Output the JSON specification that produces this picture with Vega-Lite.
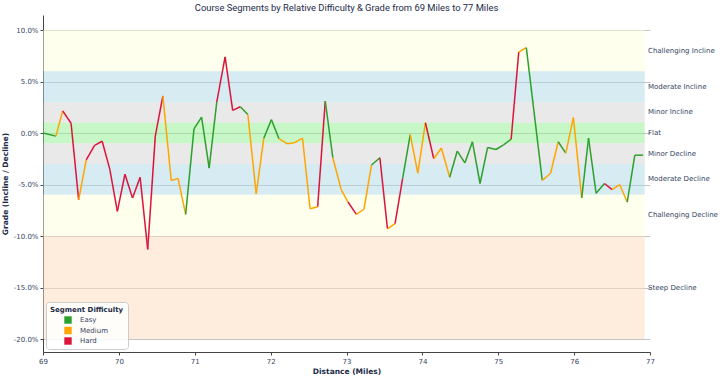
{
  "$schema": "https://vega.github.io/schema/vega-lite/v6.json",
  "autosize": {"type": "none"},
  "width": 607,
  "height": 337,
  "padding": {"left": 43, "top": 15, "right": 70, "bottom": 28},
  "background": "white",
  "title": {"text": "Course Segments by Relative Difficulty & Grade from 69 Miles to 77 Miles", "font": "Roboto", "fontSize": 9.4, "fontWeight": "normal", "color": "#1b2a47", "anchor": "middle", "offset": 2},
  "config": {
    "view": {"stroke": null},
    "axis": {"labelFont": "DejaVu Sans", "labelFontSize": 7, "labelColor": "#34445f", "titleFont": "DejaVu Sans", "titleFontSize": 7.5, "titleFontWeight": "bold", "titleColor": "#1b2a47", "gridColor": "#c4c4c4", "gridWidth": 1, "domainColor": "#444444", "tickColor": "#444444", "tickSize": 3, "labelFlush": false}
  },
  "datasets": {
    "bands": [
      {"band": "Challenging Incline", "lo": 6, "hi": 10, "mid": 8},
      {"band": "Moderate Incline", "lo": 3, "hi": 6, "mid": 4.5},
      {"band": "Minor Incline", "lo": 1, "hi": 3, "mid": 2},
      {"band": "Flat", "lo": -1, "hi": 1, "mid": 0},
      {"band": "Minor Decline", "lo": -3, "hi": -1, "mid": -2},
      {"band": "Moderate Decline", "lo": -6, "hi": -3, "mid": -4.5},
      {"band": "Challenging Decline", "lo": -10, "hi": -6, "mid": -8},
      {"band": "Steep Decline", "lo": -20, "hi": -10, "mid": -15}
    ],
    "segs": [
      {"x0": 69.00, "x1": 69.17, "g0": 0.0, "g1": -0.3, "d": "Easy"},
      {"x0": 69.17, "x1": 69.26, "g0": -0.3, "g1": 2.15, "d": "Medium"},
      {"x0": 69.26, "x1": 69.37, "g0": 2.15, "g1": 0.95, "d": "Hard"},
      {"x0": 69.37, "x1": 69.47, "g0": 0.95, "g1": -6.5, "d": "Hard"},
      {"x0": 69.47, "x1": 69.57, "g0": -6.5, "g1": -2.6, "d": "Medium"},
      {"x0": 69.57, "x1": 69.68, "g0": -2.6, "g1": -1.2, "d": "Hard"},
      {"x0": 69.68, "x1": 69.78, "g0": -1.2, "g1": -0.8, "d": "Hard"},
      {"x0": 69.78, "x1": 69.88, "g0": -0.8, "g1": -3.5, "d": "Hard"},
      {"x0": 69.88, "x1": 69.98, "g0": -3.5, "g1": -7.6, "d": "Hard"},
      {"x0": 69.98, "x1": 70.08, "g0": -7.6, "g1": -4.0, "d": "Hard"},
      {"x0": 70.08, "x1": 70.18, "g0": -4.0, "g1": -6.3, "d": "Hard"},
      {"x0": 70.18, "x1": 70.28, "g0": -6.3, "g1": -4.3, "d": "Hard"},
      {"x0": 70.28, "x1": 70.38, "g0": -4.3, "g1": -11.3, "d": "Hard"},
      {"x0": 70.38, "x1": 70.48, "g0": -11.3, "g1": -0.3, "d": "Hard"},
      {"x0": 70.48, "x1": 70.58, "g0": -0.3, "g1": 3.6, "d": "Hard"},
      {"x0": 70.58, "x1": 70.69, "g0": 3.6, "g1": -4.6, "d": "Medium"},
      {"x0": 70.69, "x1": 70.78, "g0": -4.6, "g1": -4.4, "d": "Medium"},
      {"x0": 70.78, "x1": 70.88, "g0": -4.4, "g1": -7.9, "d": "Medium"},
      {"x0": 70.88, "x1": 70.99, "g0": -7.9, "g1": 0.4, "d": "Easy"},
      {"x0": 70.99, "x1": 71.09, "g0": 0.4, "g1": 1.55, "d": "Easy"},
      {"x0": 71.09, "x1": 71.19, "g0": 1.55, "g1": -3.4, "d": "Easy"},
      {"x0": 71.19, "x1": 71.29, "g0": -3.4, "g1": 3.0, "d": "Easy"},
      {"x0": 71.29, "x1": 71.40, "g0": 3.0, "g1": 7.4, "d": "Hard"},
      {"x0": 71.40, "x1": 71.50, "g0": 7.4, "g1": 2.2, "d": "Hard"},
      {"x0": 71.50, "x1": 71.60, "g0": 2.2, "g1": 2.55, "d": "Hard"},
      {"x0": 71.60, "x1": 71.70, "g0": 2.55, "g1": 1.8, "d": "Easy"},
      {"x0": 71.70, "x1": 71.81, "g0": 1.8, "g1": -5.9, "d": "Medium"},
      {"x0": 71.81, "x1": 71.91, "g0": -5.9, "g1": -0.5, "d": "Medium"},
      {"x0": 71.91, "x1": 72.01, "g0": -0.5, "g1": 1.3, "d": "Easy"},
      {"x0": 72.01, "x1": 72.11, "g0": 1.3, "g1": -0.55, "d": "Easy"},
      {"x0": 72.11, "x1": 72.22, "g0": -0.55, "g1": -1.05, "d": "Medium"},
      {"x0": 72.22, "x1": 72.31, "g0": -1.05, "g1": -0.95, "d": "Medium"},
      {"x0": 72.31, "x1": 72.42, "g0": -0.95, "g1": -0.5, "d": "Medium"},
      {"x0": 72.42, "x1": 72.52, "g0": -0.5, "g1": -7.35, "d": "Medium"},
      {"x0": 72.52, "x1": 72.62, "g0": -7.35, "g1": -7.15, "d": "Medium"},
      {"x0": 72.62, "x1": 72.72, "g0": -7.15, "g1": 3.1, "d": "Hard"},
      {"x0": 72.72, "x1": 72.82, "g0": 3.1, "g1": -2.4, "d": "Easy"},
      {"x0": 72.82, "x1": 72.93, "g0": -2.4, "g1": -5.5, "d": "Medium"},
      {"x0": 72.93, "x1": 73.02, "g0": -5.5, "g1": -6.7, "d": "Medium"},
      {"x0": 73.02, "x1": 73.13, "g0": -6.7, "g1": -7.9, "d": "Hard"},
      {"x0": 73.13, "x1": 73.23, "g0": -7.9, "g1": -7.4, "d": "Medium"},
      {"x0": 73.23, "x1": 73.33, "g0": -7.4, "g1": -3.1, "d": "Medium"},
      {"x0": 73.33, "x1": 73.44, "g0": -3.1, "g1": -2.4, "d": "Easy"},
      {"x0": 73.44, "x1": 73.54, "g0": -2.4, "g1": -9.3, "d": "Hard"},
      {"x0": 73.54, "x1": 73.64, "g0": -9.3, "g1": -8.8, "d": "Medium"},
      {"x0": 73.64, "x1": 73.74, "g0": -8.8, "g1": -4.4, "d": "Hard"},
      {"x0": 73.74, "x1": 73.84, "g0": -4.4, "g1": -0.15, "d": "Easy"},
      {"x0": 73.84, "x1": 73.94, "g0": -0.15, "g1": -3.9, "d": "Medium"},
      {"x0": 73.94, "x1": 74.04, "g0": -3.9, "g1": 1.0, "d": "Medium"},
      {"x0": 74.04, "x1": 74.15, "g0": 1.0, "g1": -2.5, "d": "Hard"},
      {"x0": 74.15, "x1": 74.25, "g0": -2.5, "g1": -1.45, "d": "Medium"},
      {"x0": 74.25, "x1": 74.36, "g0": -1.45, "g1": -4.3, "d": "Medium"},
      {"x0": 74.36, "x1": 74.46, "g0": -4.3, "g1": -1.75, "d": "Easy"},
      {"x0": 74.46, "x1": 74.56, "g0": -1.75, "g1": -2.9, "d": "Easy"},
      {"x0": 74.56, "x1": 74.66, "g0": -2.9, "g1": -0.85, "d": "Easy"},
      {"x0": 74.66, "x1": 74.76, "g0": -0.85, "g1": -4.9, "d": "Easy"},
      {"x0": 74.76, "x1": 74.86, "g0": -4.9, "g1": -1.4, "d": "Easy"},
      {"x0": 74.86, "x1": 74.97, "g0": -1.4, "g1": -1.6, "d": "Easy"},
      {"x0": 74.97, "x1": 75.07, "g0": -1.6, "g1": -1.15, "d": "Easy"},
      {"x0": 75.07, "x1": 75.17, "g0": -1.15, "g1": -0.6, "d": "Easy"},
      {"x0": 75.17, "x1": 75.27, "g0": -0.6, "g1": 7.85, "d": "Hard"},
      {"x0": 75.27, "x1": 75.37, "g0": 7.85, "g1": 8.3, "d": "Medium"},
      {"x0": 75.37, "x1": 75.58, "g0": 8.3, "g1": -4.6, "d": "Easy"},
      {"x0": 75.58, "x1": 75.69, "g0": -4.6, "g1": -3.9, "d": "Medium"},
      {"x0": 75.69, "x1": 75.79, "g0": -3.9, "g1": -0.85, "d": "Medium"},
      {"x0": 75.79, "x1": 75.89, "g0": -0.85, "g1": -1.95, "d": "Easy"},
      {"x0": 75.89, "x1": 75.99, "g0": -1.95, "g1": 1.5, "d": "Medium"},
      {"x0": 75.99, "x1": 76.10, "g0": 1.5, "g1": -6.3, "d": "Medium"},
      {"x0": 76.10, "x1": 76.19, "g0": -6.3, "g1": -0.5, "d": "Easy"},
      {"x0": 76.19, "x1": 76.29, "g0": -0.5, "g1": -5.85, "d": "Easy"},
      {"x0": 76.29, "x1": 76.40, "g0": -5.85, "g1": -4.9, "d": "Easy"},
      {"x0": 76.40, "x1": 76.50, "g0": -4.9, "g1": -5.5, "d": "Hard"},
      {"x0": 76.50, "x1": 76.60, "g0": -5.5, "g1": -5.0, "d": "Medium"},
      {"x0": 76.60, "x1": 76.70, "g0": -5.0, "g1": -6.7, "d": "Medium"},
      {"x0": 76.70, "x1": 76.80, "g0": -6.7, "g1": -2.15, "d": "Easy"},
      {"x0": 76.80, "x1": 76.91, "g0": -2.15, "g1": -2.15, "d": "Easy"}
    ]
  },
  "layer": [
    {
      "data": {"name": "bands"},
      "mark": {"type": "rect", "opacity": 0.5},
      "encoding": {
        "x": {"datum": 69, "type": "quantitative", "scale": {"domain": [69, 77], "nice": false}, "axis": {"title": "Distance (Miles)", "values": [69, 70, 71, 72, 73, 74, 75, 76, 77], "format": "d", "labelPadding": 2, "titlePadding": 3}},
        "x2": {"datum": 76.93},
        "y": {"field": "lo", "type": "quantitative", "scale": {"domain": [-21.26, 11.46], "nice": false, "zero": false}, "axis": {"title": "Grade (Incline / Decline)", "values": [-20, -15, -10, -5, 0, 5, 10], "labelExpr": "(datum.value < 0 ? '-' : '') + format(abs(datum.value), '.1f') + '%'", "labelPadding": 2, "titlePadding": 4}},
        "y2": {"field": "hi"},
        "fill": {"field": "band", "type": "nominal", "legend": null, "scale": {"domain": ["Challenging Incline", "Moderate Incline", "Minor Incline", "Flat", "Minor Decline", "Moderate Decline", "Challenging Decline", "Steep Decline"], "range": ["#ffffdc", "#add8e6", "#d3d3d3", "#90ee90", "#d3d3d3", "#add8e6", "#ffffdc", "#fddcba"]}}
      }
    },
    {
      "data": {"name": "bands"},
      "mark": {"type": "text", "align": "left", "baseline": "middle", "dx": -2, "font": "DejaVu Sans", "fontSize": 7, "fill": "#34445f"},
      "encoding": {
        "x": {"datum": 77, "type": "quantitative"},
        "y": {"field": "mid", "type": "quantitative"},
        "text": {"field": "band"}
      }
    },
    {
      "data": {"name": "segs"},
      "mark": {"type": "rule", "strokeWidth": 1.5},
      "encoding": {
        "x": {"field": "x0", "type": "quantitative"},
        "x2": {"field": "x1"},
        "y": {"field": "g0", "type": "quantitative"},
        "y2": {"field": "g1"},
        "color": {"field": "d", "type": "nominal", "scale": {"domain": ["Easy", "Medium", "Hard"], "range": ["#2ca02c", "#ffa500", "#dc143c"]},
          "legend": {"title": "Segment Difficulty", "orient": "bottom-left", "offset": 3, "symbolType": "square", "symbolSize": 55, "symbolStrokeWidth": 0, "symbolOffset": 14, "titleFont": "DejaVu Sans", "titleFontSize": 7, "titleFontWeight": "bold", "titleColor": "#1b2a47", "labelFont": "DejaVu Sans", "labelFontSize": 7, "labelColor": "#34445f", "labelOffset": 8, "rowPadding": 2.5, "titlePadding": 3, "padding": 4, "fillColor": "rgba(255,255,255,0.85)", "strokeColor": "#cccccc", "cornerRadius": 3,
            "encode": {"symbols": {"update": {"fill": {"scale": "color", "field": "value"}, "fillOpacity": {"value": 1}, "strokeWidth": {"value": 0}}}}}}
      }
    }
  ]
}
